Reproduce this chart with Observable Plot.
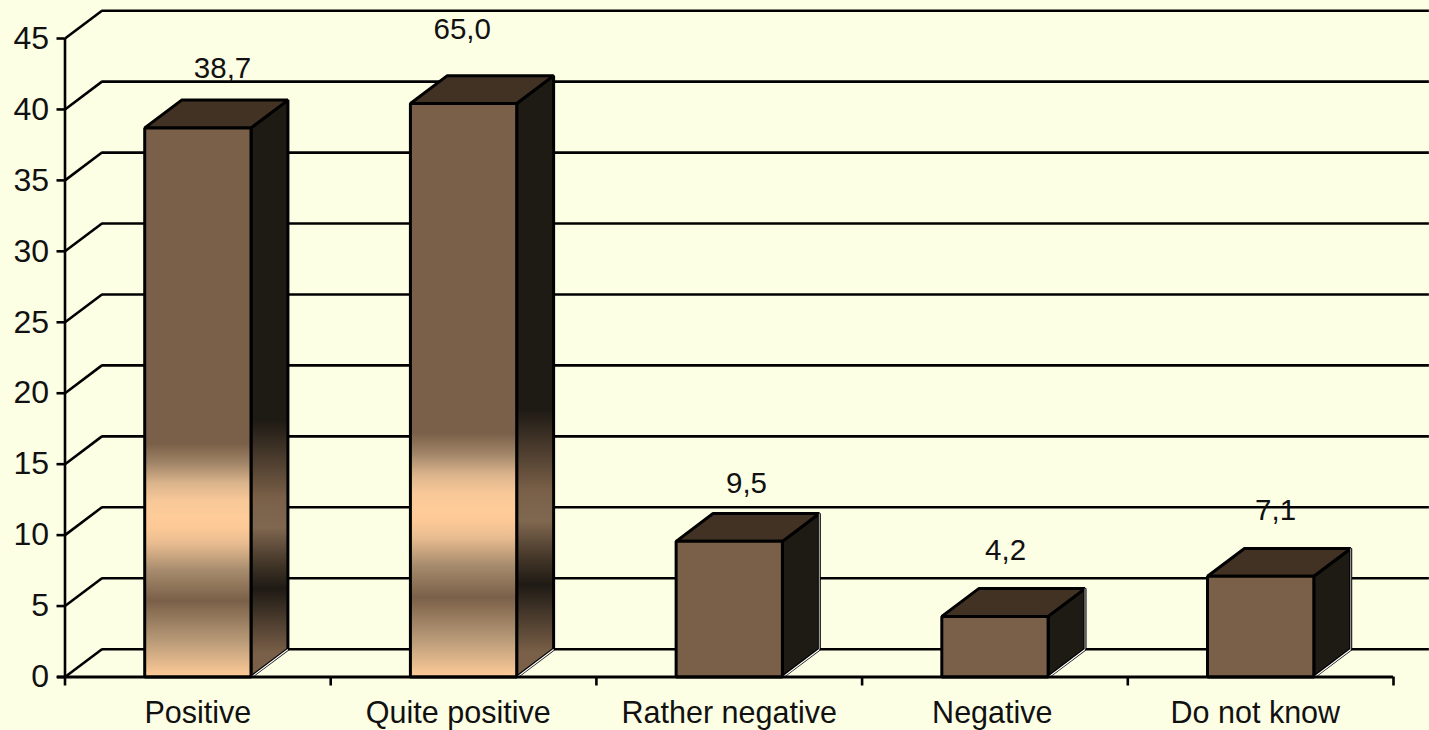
<!DOCTYPE html>
<html>
<head>
<meta charset="utf-8">
<script src="https://cdn.jsdelivr.net/npm/d3@7"></script>
<script src="https://cdn.jsdelivr.net/npm/@observablehq/plot@0.6"></script>
<style>
html,body{margin:0;padding:0;background:#fdffe5;overflow:hidden}
svg{display:block}
</style>
</head>
<body>
<div id="chart"></div>
<script>
const categories = ["Positive", "Quite positive", "Rather negative", "Negative", "Do not know"];
const labels = ["38,7", "65,0", "9,5", "4,2", "7,1"];
const heights = [38.7, 40.42, 9.56, 4.27, 7.1];
const yTicks = [0, 5, 10, 15, 20, 25, 30, 35, 40, 45];
const labelAnchors = [[0.593, 42.9], [1.495, 45.6], [2.565, 13.6], [3.54, 8.9], [4.556, 11.7]];
const hasGradient = [true, true, false, false, false];

const depthX = 0.139, depthY = 1.96, barLo = 0.3, barHi = 0.7;
const BROWN = "#7a6048", PEACH = "#ffcc99", DARK = "#1e1a14", TOP = "#413224";

const frontStops = [[0, BROWN], [0.575, BROWN], [0.61, "#a08468"], [0.648, "#dcb58c"], [0.68, "#f8c898"], [0.71, PEACH], [0.73, "#fbc896"], [0.757, "#e8bc90"], [0.807, "#a58a6c"], [0.861, BROWN], [0.934, "#b89a78"], [1, PEACH]];
const sideStops = [[0, DARK], [0.555, DARK], [0.62, "#4a3b2d"], [0.69, BROWN], [0.74, "#806850"], [0.80, "#46382a"], [0.847, DARK], [0.90, "#4a3b2d"], [0.96, BROWN], [1, BROWN]];

function gradients() {
  const defs = d3.create("svg:defs");
  for (const [id, stops] of [["gradFront", frontStops], ["gradSide", sideStops]]) {
    const g = defs.append("linearGradient").attr("id", id)
      .attr("x1", 0).attr("y1", 0).attr("x2", 0).attr("y2", 1);
    for (const [o, c] of stops) g.append("stop").attr("offset", o).attr("stop-color", c);
  }
  return defs.node();
}

const faces = [];
const addFace = (key, fill, pts) => pts.forEach(([x, y]) => faces.push({key, fill, x, y}));
heights.forEach((h, i) => {
  const a = i + barLo, b = i + barHi, g = hasGradient[i];
  addFace("side" + i, g ? "url(#gradSide)" : DARK,
    [[b, 0], [b + depthX, depthY], [b + depthX, h + depthY], [b, h]]);
  addFace("top" + i, TOP,
    [[a, h], [b, h], [b + depthX, h + depthY], [a + depthX, h + depthY]]);
  addFace("front" + i, g ? "url(#gradFront)" : BROWN,
    [[a, 0], [b, 0], [b, h], [a, h]]);
});

const chart = Plot.plot({
  width: 1429,
  height: 730,
  marginTop: 0, marginLeft: 64.5, marginRight: 36, marginBottom: 53.5,
  style: {background: "#fdffe5", fontFamily: "'Liberation Sans', Arial, sans-serif", color: "#111"},
  x: {domain: [0, 5], range: [64.5, 1393], axis: null},
  y: {domain: [0, 45], range: [676.5, 38], axis: null},
  color: {type: "identity"},
  marks: [
    gradients,
    Plot.link(yTicks, {x1: 0, y1: d => d, x2: depthX, y2: d => d + depthY, stroke: "#000", strokeWidth: 2.6}),
    Plot.ruleY(yTicks.map(d => d + depthY), {x1: depthX, x2: 5.135, stroke: "#000", strokeWidth: 2.6}),
    Plot.ruleX([0], {y1: 0, y2: 45, stroke: "#000", strokeWidth: 2.6}),
    Plot.axisY({ticks: yTicks, tickSize: 8, tickPadding: 8, fontSize: 32, strokeWidth: 2.6, stroke: "#000", fill: "#111", label: null}),
    Plot.axisX({ticks: [0, 1, 2, 3, 4, 5], tickSize: 9, tickFormat: () => "", strokeWidth: 2.6, stroke: "#000", label: null}),
    Plot.axisX({ticks: [0.5, 1.48, 2.5, 3.49, 4.48], tickSize: 0, tickPadding: 24, fontSize: 30.5, fill: "#111", stroke: "none",
      tickFormat: d => categories[Math.floor(d)], label: null}),
    Plot.line(faces, {x: "x", y: "y", z: "key", fill: "fill", stroke: "#000", strokeWidth: 3, curve: "linear-closed", strokeLinejoin: "miter"}),
    Plot.link(heights, {x1: (h, i) => i + barHi + 0.006, y1: 0.06, x2: (h, i) => i + barHi + depthX, y2: depthY - 0.02, stroke: "#fff", strokeWidth: 1.2}),
    Plot.link(heights.slice(2), {x1: (h, i) => i + 2 + barHi + depthX, y1: depthY, x2: (h, i) => i + 2 + barHi + depthX, y2: h => h + depthY, stroke: "#bbb", strokeWidth: 1}),
    Plot.ruleY([0], {x1: -0.028, x2: 5, stroke: "#000", strokeWidth: 3}),
    Plot.text(labels, {x: (d, i) => labelAnchors[i][0], y: (d, i) => labelAnchors[i][1], text: d => d, fontSize: 29.5, fill: "#111"})
  ]
});
document.getElementById("chart").appendChild(chart);
</script>
</body>
</html>
